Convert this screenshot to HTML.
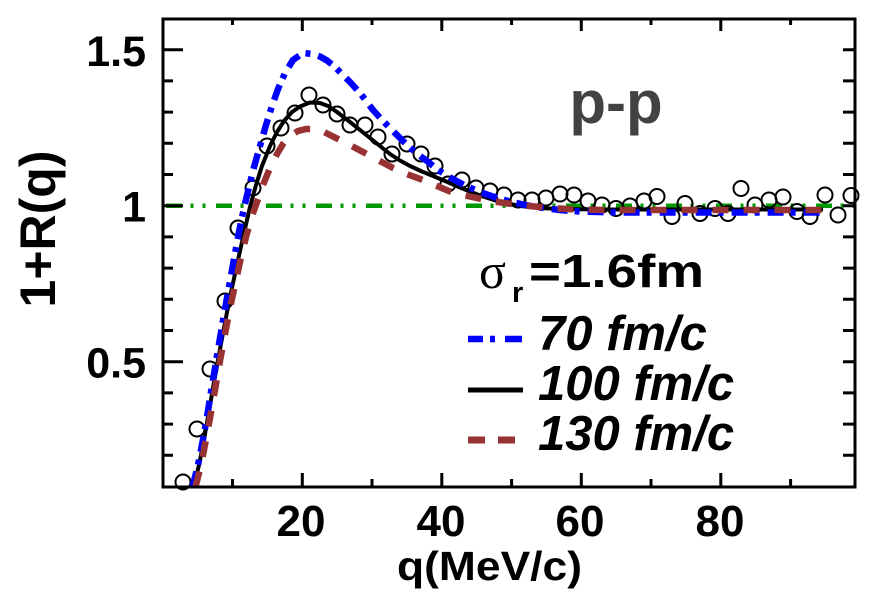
<!DOCTYPE html>
<html>
<head>
<meta charset="utf-8">
<style>
html,body{margin:0;padding:0;background:#fff;}
svg{display:block;}
text{font-family:"Liberation Sans",Arial,sans-serif;}
</style>
</head>
<body>
<svg width="878" height="601" viewBox="0 0 878 601" xmlns="http://www.w3.org/2000/svg">
<rect width="878" height="601" fill="#fff"/>

<line x1="166" y1="205.7" x2="855" y2="205.7" stroke="#009a00" stroke-width="4.5" stroke-dasharray="16 8.5 3 9 3 10.5"/>

<g fill="none" stroke="#000" stroke-width="2">
<circle cx="183" cy="482" r="7.5"/>
<circle cx="197" cy="429" r="7.5"/>
<circle cx="210" cy="369" r="7.5"/>
<circle cx="225" cy="301" r="7.5"/>
<circle cx="238" cy="228" r="7.5"/>
<circle cx="253" cy="188" r="7.5"/>
<circle cx="267" cy="146" r="7.5"/>
<circle cx="281" cy="128" r="7.5"/>
<circle cx="295" cy="113" r="7.5"/>
<circle cx="309" cy="95" r="7.5"/>
<circle cx="323" cy="105" r="7.5"/>
<circle cx="337" cy="114" r="7.5"/>
<circle cx="350" cy="125" r="7.5"/>
<circle cx="365" cy="125" r="7.5"/>
<circle cx="378" cy="137" r="7.5"/>
<circle cx="392" cy="154" r="7.5"/>
<circle cx="407" cy="144" r="7.5"/>
<circle cx="421" cy="154" r="7.5"/>
<circle cx="435" cy="166" r="7.5"/>
<circle cx="448" cy="184" r="7.5"/>
<circle cx="462" cy="180" r="7.5"/>
<circle cx="476" cy="188" r="7.5"/>
<circle cx="490" cy="191" r="7.5"/>
<circle cx="504" cy="195" r="7.5"/>
<circle cx="518" cy="200" r="7.5"/>
<circle cx="532" cy="200" r="7.5"/>
<circle cx="546" cy="198" r="7.5"/>
<circle cx="560" cy="194" r="7.5"/>
<circle cx="574" cy="195" r="7.5"/>
<circle cx="588" cy="201" r="7.5"/>
<circle cx="602" cy="205" r="7.5"/>
<circle cx="616" cy="208.5" r="7.5"/>
<circle cx="630" cy="206" r="7.5"/>
<circle cx="644" cy="201" r="7.5"/>
<circle cx="657" cy="196.5" r="7.5"/>
<circle cx="672" cy="216.5" r="7.5"/>
<circle cx="685" cy="203.5" r="7.5"/>
<circle cx="700" cy="213.5" r="7.5"/>
<circle cx="715" cy="208.5" r="7.5"/>
<circle cx="728" cy="213.5" r="7.5"/>
<circle cx="741" cy="188.5" r="7.5"/>
<circle cx="755" cy="205" r="7.5"/>
<circle cx="769" cy="200" r="7.5"/>
<circle cx="783" cy="197" r="7.5"/>
<circle cx="797" cy="211.5" r="7.5"/>
<circle cx="810" cy="216.5" r="7.5"/>
<circle cx="825" cy="195" r="7.5"/>
<circle cx="838" cy="215" r="7.5"/>
<circle cx="851" cy="195.5" r="7.5"/>
</g>

<polyline fill="none" stroke="#000" stroke-width="4" stroke-linejoin="round"
points="193.5,487 196,477 199,465 202,450 205,434 208,417 213,388 218,360 223,333 228,307 233,283 238,260 244,233 250,207 256,185 262,166 270,146 277,132 284,121 292,112 300,106.5 310,102.5 320,103 328,106 337,112 350,122 365,134 380,146 390,154 400,160.5 410,166 422,171.5 433,176 445,181 460,187.5 480,195.5 500,202 520,206 540,208 560,209 600,209.5 823,209.5"/>

<polyline fill="none" stroke="#0000ff" stroke-width="6.5" stroke-linejoin="round" stroke-dasharray="16 7 5 8"
points="192.5,487 195,477 198,465 201,450 204,434 206.5,420 211,392 216,362 220.5,335 225,309 229.5,284 234,259 239,232 244,208 249,187 254,167 260,146 266,125 272,106 278,89 285,73 293,60 303,53 313,54 320,56.5 327,60.5 334,66 340,72 350,82 360,93 367,102 373,110 383,121 393,131 402,140 410,147.5 418,154.5 427,161 438,170 450,177.5 465,185.5 480,192 497,198 510,201.5 525,205 540,207.5 560,210 580,211.5 620,212.5 823,212.5"/>

<polyline fill="none" stroke="#993333" stroke-width="6.5" stroke-linejoin="round" stroke-dasharray="16 15"
points="195.5,487 198,477 201,465 204,450 207,434 210,418 215,390 220,361 225,334 230,308 235,285 240,262 246,237 252,216 257,202 263,185 270,168 277,154 283,144 290,136 298,131 306,129 314,129 320,130 333,136.5 347,143.5 363,152 378,160 393,168 408,174.5 423,180 437,186 450,191.5 465,195.5 479,198.5 494,201.5 508,203.5 524,205.5 540,207 556,208.3 572,209.2 603,210 823,210"/>

<rect x="163" y="19" width="692" height="468" fill="none" stroke="#000" stroke-width="3"/>

<g stroke="#000" stroke-width="3" fill="none">
<path d="M163 361.7h20M163 205.7h20M163 49.7h20"/>
<path d="M163 455.3h10M163 424.1h10M163 392.9h10M163 330.5h10M163 299.3h10M163 268.1h10M163 236.9h10M163 174.5h10M163 143.3h10M163 112.1h10M163 80.9h10"/>
<path d="M855 455.3h-12M855 424.1h-12M855 392.9h-12M855 361.7h-12M855 330.5h-12M855 299.3h-12M855 268.1h-12M855 236.9h-12M855 205.7h-12M855 174.5h-12M855 143.3h-12M855 112.1h-12M855 80.9h-12M855 49.7h-12"/>
<path d="M302.3 487v-14M441.8 487v-14M581.3 487v-14M720.8 487v-14"/>
<path d="M232.5 487v-8M372 487v-8M511.6 487v-8M651 487v-8M790.6 487v-8"/>
<path d="M302.3 19v12M441.8 19v12M581.3 19v12M720.8 19v12"/>
<path d="M232.5 19v6M372 19v6M511.6 19v6M651 19v6M790.6 19v6"/>
</g>

<g font-weight="bold" font-size="43" fill="#000" text-anchor="end">
<text x="146" y="66">1.5</text>
<text x="146" y="221.5">1</text>
<text x="146" y="377.5">0.5</text>
</g>

<g font-weight="bold" font-size="44" fill="#000" text-anchor="middle">
<text x="301" y="536">20</text>
<text x="441" y="536">40</text>
<text x="580" y="536">60</text>
<text x="720" y="536">80</text>
</g>

<text x="397" y="580" font-weight="bold" font-size="41" textLength="185" lengthAdjust="spacingAndGlyphs">q(MeV/c)</text>
<text transform="translate(55,229) rotate(-90)" text-anchor="middle" font-weight="bold" font-size="50">1+R(q)</text>

<text x="616" y="123" text-anchor="middle" font-weight="bold" font-size="60" fill="#424242">p-p</text>

<text x="479" y="288" font-size="50" fill="#000" style="font-family:'Liberation Serif',serif">σ</text>
<text x="512" y="302" font-weight="bold" font-size="29">r</text>
<text x="529" y="287" font-weight="bold" font-size="46" textLength="175" lengthAdjust="spacingAndGlyphs">=1.6fm</text>

<line x1="468" y1="339" x2="522" y2="339" stroke="#0000ff" stroke-width="6.5" stroke-dasharray="15 7 5 10 17"/>
<line x1="468" y1="390" x2="523" y2="390" stroke="#000" stroke-width="5"/>
<line x1="468" y1="440" x2="516" y2="440" stroke="#993333" stroke-width="7" stroke-dasharray="17 13"/>
<g font-weight="bold" font-style="italic" font-size="49" fill="#000">
<text x="538" y="350">70 fm/c</text>
<text x="538" y="400">100 fm/c</text>
<text x="538" y="450">130 fm/c</text>
</g>
</svg>
</body>
</html>
